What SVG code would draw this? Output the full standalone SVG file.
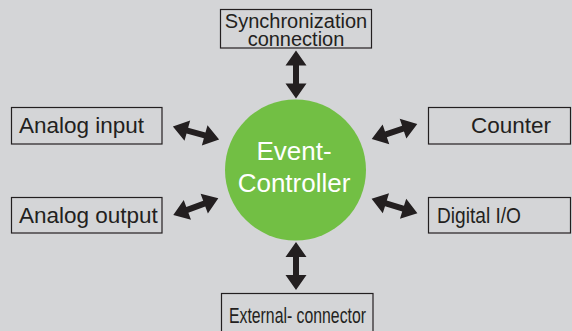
<svg xmlns="http://www.w3.org/2000/svg" xmlns:xlink="http://www.w3.org/1999/xlink" width="572" height="331" viewBox="0 0 572 331">
<style>
.box{fill:#d4d5d7;stroke:#231f20;stroke-width:1.2}
.lbl{font-family:"Liberation Sans",Arial,sans-serif;fill:#231f20}
.ctr{font-family:"Liberation Sans",Arial,sans-serif;fill:#ffffff;font-size:26px;text-anchor:middle}
.arr{fill:#231f20}
</style>
<defs>
<path id="dbl" d="M -24 0 L -9 -10.5 L -9 -3 L 9 -3 L 9 -10.5 L 24 0 L 9 10.5 L 9 3 L -9 3 L -9 10.5 Z"/>
</defs>
<rect x="0" y="0" width="572" height="331" fill="#d4d5d7"/>
<g id="connectors" class="arr">
<use xlink:href="#dbl" transform="translate(296,74.5) rotate(90)"/>
<use xlink:href="#dbl" transform="translate(296,266) rotate(90)"/>
<use xlink:href="#dbl" transform="translate(196,133) rotate(15.6)"/>
<use xlink:href="#dbl" transform="translate(195.8,206.7) rotate(-20.3)"/>
<use xlink:href="#dbl" transform="translate(394.5,131.5) rotate(-18.4)"/>
<use xlink:href="#dbl" transform="translate(394.5,206) rotate(17.3)"/>
</g>
<g id="event-controller">
<circle cx="295.5" cy="170" r="70.5" fill="#72bf44"/>
<text class="ctr" x="294" y="160">Event-</text>
<text class="ctr" x="294" y="192">Controller</text>
</g>
<g id="sync">
<rect class="box" x="220.5" y="9.5" width="151" height="38.5"/>
<text class="lbl" x="296" y="28" font-size="20" text-anchor="middle">Synchronization</text>
<text class="lbl" x="296" y="46" font-size="20" text-anchor="middle">connection</text>
</g>
<g id="analog-input">
<rect class="box" x="11.5" y="107.5" width="150.5" height="36.5"/>
<text class="lbl" x="19" y="133" font-size="22.5">Analog input</text>
</g>
<g id="analog-output">
<rect class="box" x="11.5" y="197.5" width="150.5" height="35.5"/>
<text class="lbl" x="19" y="223" font-size="22.5">Analog output</text>
</g>
<g id="counter">
<rect class="box" x="428.5" y="107.5" width="142" height="36.5"/>
<text class="lbl" x="471" y="133" font-size="22.5">Counter</text>
</g>
<g id="digital-io">
<rect class="box" x="428.5" y="197.5" width="142" height="35.5"/>
<text class="lbl" x="437" y="223" font-size="22" textLength="84" lengthAdjust="spacingAndGlyphs">Digital I/O</text>
</g>
<g id="external-connector">
<rect class="box" x="221.5" y="293.5" width="151.5" height="40"/>
<text class="lbl" x="229" y="323" font-size="21.5" textLength="137" lengthAdjust="spacingAndGlyphs">External- connector</text>
</g>
</svg>
